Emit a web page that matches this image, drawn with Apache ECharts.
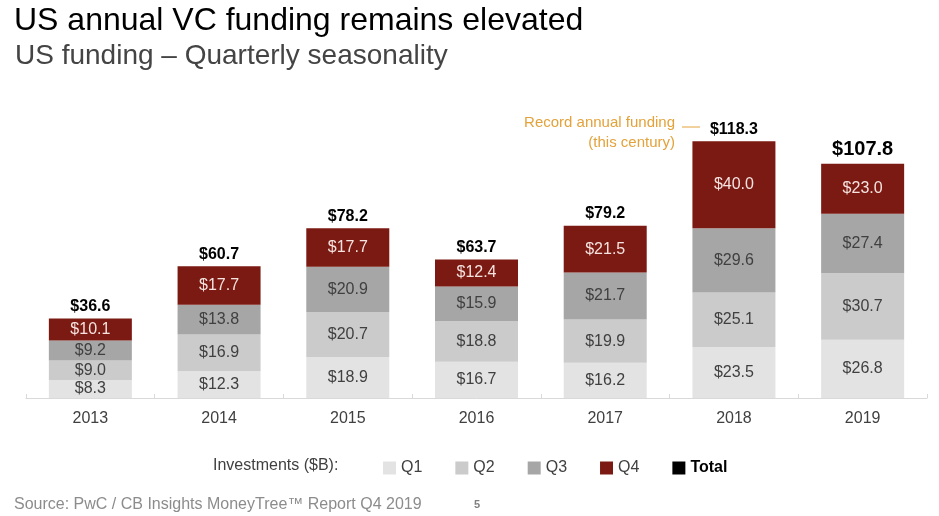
<!DOCTYPE html>
<html>
<head>
<meta charset="utf-8">
<script src="https://cdn.jsdelivr.net/npm/echarts@6/dist/echarts.min.js"></script>
<style>
html,body{margin:0;padding:0;background:#fff;}
#main{width:939px;height:516px;}
</style>
</head>
<body>
<div id="main"></div>
<script>
var years = ['2013','2014','2015','2016','2017','2018','2019'];
var q1 = [8.3, 12.3, 18.9, 16.7, 16.2, 23.5, 26.8];
var q2 = [9.0, 16.9, 20.7, 18.8, 19.9, 25.1, 30.7];
var q3 = [9.2, 13.8, 20.9, 15.9, 21.7, 29.6, 27.4];
var q4 = [10.1, 17.7, 17.7, 12.4, 21.5, 40.0, 23.0];
var totals = [36.6, 60.7, 78.2, 63.7, 79.2, 118.3, 107.8];

var FONT = '"Liberation Sans", Arial, Helvetica, sans-serif';
var colors = {Q1:'#e3e3e3', Q2:'#cbcbcb', Q3:'#a6a6a6', Q4:'#7b1a12', Total:'#000000'};

function qSeries(name, data, labelColor){
  return {
    name: name, type: 'bar', stack: 'a', barWidth: 83,
    data: data,
    itemStyle: {color: colors[name]},
    label: {show: true, position: 'inside', color: labelColor, fontSize: 16, fontFamily: FONT,
      formatter: function(p){ return '$' + p.value.toFixed(1); }},
    emphasis: {disabled: true}
  };
}

var chart = echarts.init(document.getElementById('main'), null, {renderer:'canvas'});
chart.setOption({
  animation: false,
  textStyle: {fontFamily: FONT},
  grid: {left: 26, right: 12, top: 94, bottom: 118},
  xAxis: {
    type: 'category', data: years,
    axisLine: {lineStyle: {color: '#d9d9d9', width: 1}},
    axisTick: {show: true, inside: true, length: 4, lineStyle: {color: '#d9d9d9'}},
    axisLabel: {color: '#404040', fontSize: 16, margin: 13, fontFamily: FONT}
  },
  yAxis: {type: 'value', min: 0, max: 140, show: false, splitLine: {show: false}},
  legend: {
    left: 378, top: 455, itemWidth: 13, itemHeight: 13, itemGap: 33, icon: 'rect',
    data: ['Q1','Q2','Q3','Q4','Total'],
    textStyle: {fontSize: 16, color: '#404040', fontFamily: FONT,
      rich: {b: {fontSize: 16, fontWeight: 'bold', color: '#000', fontFamily: FONT}}},
    formatter: function(n){ return n === 'Total' ? '{b|Total}' : n; },
    selectedMode: false
  },
  series: [
    qSeries('Q1', q1, '#404040'),
    qSeries('Q2', q2, '#404040'),
    qSeries('Q3', q3, '#404040'),
    qSeries('Q4', q4, '#f5e3e0'),
    {
      name: 'Total', type: 'bar', stack: 'a', barWidth: 83,
      itemStyle: {color: '#000'},
      data: totals.map(function(t, i){
        return {value: 0, label: {fontSize: i === totals.length - 1 ? 20 : 16}};
      }),
      label: {show: true, position: 'top', distance: 4, color: '#000', fontWeight: 'bold', fontFamily: FONT,
        formatter: function(p){ return '$' + totals[p.dataIndex].toFixed(1); }},
      emphasis: {disabled: true}
    }
  ],
  graphic: [
    {type: 'text', left: 14, top: 5, style: {text: 'US annual VC funding remains elevated', fontSize: 32, fill: '#000', fontFamily: FONT}},
    {type: 'text', left: 15, top: 42, style: {text: 'US funding \u2013 Quarterly seasonality', fontSize: 28, fill: '#444', fontFamily: FONT}},
    {type: 'text', left: 213, top: 458, style: {text: 'Investments ($B):', fontSize: 16, fill: '#404040', fontFamily: FONT}},
    {type: 'text', left: 14, top: 497, style: {text: 'Source: PwC / CB Insights MoneyTree\u2122 Report Q4 2019', fontSize: 16, fill: '#8c8c8c', fontFamily: FONT}},
    {type: 'text', left: 474, top: 499, style: {text: '5', fontSize: 11, fontWeight: 'bold', fill: '#7f7f7f', fontFamily: FONT}},
    {type: 'text', right: 939 - 675, top: 115, style: {text: 'Record annual funding', fontSize: 15, fill: '#e3a23a', fontFamily: FONT, align: 'right'}},
    {type: 'text', right: 939 - 675, top: 135, style: {text: '(this century)', fontSize: 15, fill: '#e3a23a', fontFamily: FONT, align: 'right'}},
    {type: 'line', shape: {x1: 682, y1: 127, x2: 700, y2: 127}, style: {stroke: '#e3a23a', lineWidth: 1}}
  ]
});
</script>
</body>
</html>
